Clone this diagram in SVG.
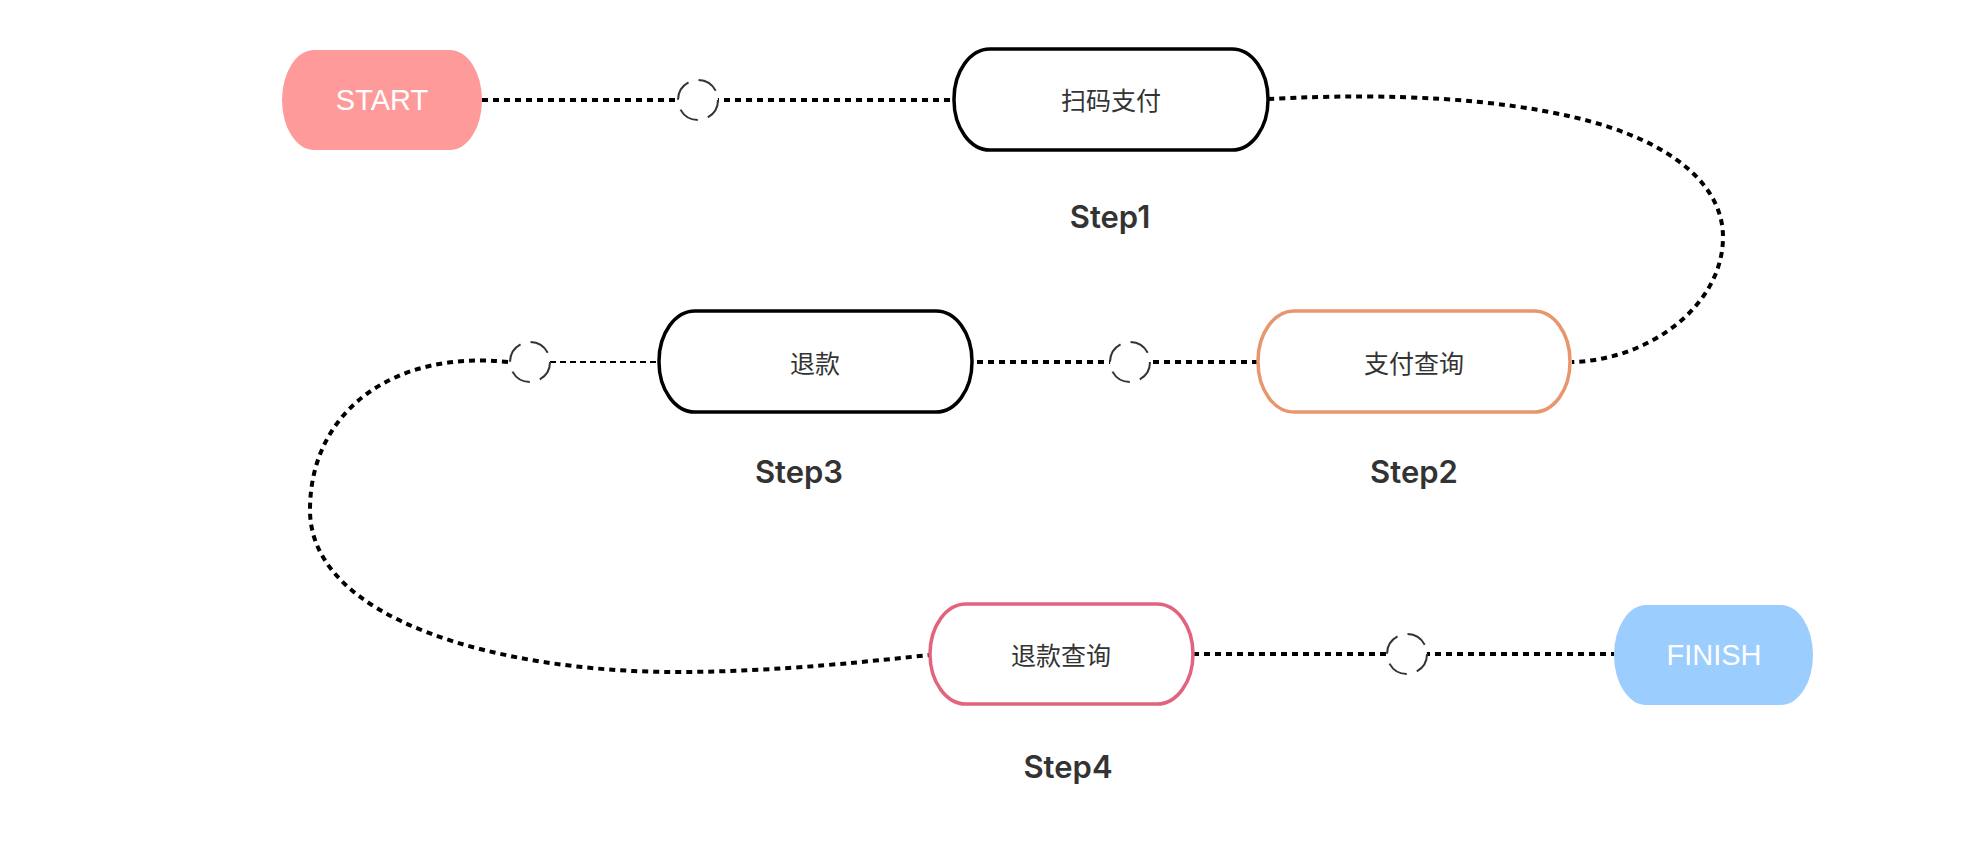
<svg xmlns="http://www.w3.org/2000/svg" width="1962" height="853" viewBox="0 0 1962 853">
<style>
.dot{fill:none;stroke:#000;stroke-width:4;stroke-dasharray:6 5}
.thin{fill:none;stroke:#000;stroke-width:2;stroke-dasharray:6 4}
.ring{fill:#fff;stroke:#333;stroke-width:2;stroke-dasharray:21 10.4}
.box{fill:#fff;stroke-width:3.5}
.lbl{font-family:"Liberation Sans","Noto Sans CJK SC",sans-serif;font-size:25px;fill:#333;text-anchor:middle;dominant-baseline:central}
.term{font-family:"Liberation Sans",sans-serif;font-size:29px;fill:#fff;text-anchor:middle;dominant-baseline:central}
.step{font-family:Inter,"Liberation Sans",sans-serif;font-size:31px;font-weight:600;fill:#333;text-anchor:middle}
</style>
<rect width="1962" height="853" fill="#fff"/>
<g id="connectors">
<path class="dot" d="M482,100 H953"/>
<path class="dot" d="M1268,99 C1400,92 1500,100 1573,117 C1680,142 1723,190 1723,237 C1723,305 1650,360 1572,362"/>
<path class="dot" d="M1258,362 H972"/>
<path class="thin" d="M550,362 H659"/>
<path class="dot" d="M508,362 C395,350 310,410 310,510 C310,620 500,672 676,672 C780,672 880,660 930,655"/>
<path class="dot" d="M1193,654 H1614"/>
</g>
<g id="ring1"><circle class="ring" cx="698" cy="100" r="20"/></g>
<g id="ring2"><circle class="ring" cx="1130" cy="362" r="20"/></g>
<g id="ring3"><circle class="ring" cx="530" cy="362" r="20"/></g>
<g id="ring4"><circle class="ring" cx="1407" cy="654" r="20"/></g>
<g id="start">
<rect x="282" y="50" width="200" height="100" rx="32" ry="50" fill="#FF9A9A"/>
<text class="term" x="382" y="100">START</text>
</g>
<g id="step1">
<rect class="box" x="954" y="49" width="314" height="101" rx="36" ry="50" stroke="#000"/>
<text class="lbl" x="1111" y="101">扫码支付</text>
<text class="step" x="1110" y="228">Step1</text>
</g>
<g id="step2">
<rect class="box" x="1258" y="311" width="312" height="101" rx="36" ry="50" stroke="#E8966E"/>
<text class="lbl" x="1414" y="364">支付查询</text>
<text class="step" x="1414" y="483">Step2</text>
</g>
<g id="step3">
<rect class="box" x="659" y="311" width="313" height="101" rx="36" ry="50" stroke="#000"/>
<text class="lbl" x="815" y="364">退款</text>
<text class="step" x="799" y="483">Step3</text>
</g>
<g id="step4">
<rect class="box" x="930" y="604" width="263" height="100" rx="36" ry="50" stroke="#E2637D"/>
<text class="lbl" x="1061" y="656">退款查询</text>
<text class="step" x="1068" y="778">Step4</text>
</g>
<g id="finish">
<rect x="1614" y="605" width="199" height="100" rx="32" ry="50" fill="#9CCDFF"/>
<text class="term" x="1714" y="655">FINISH</text>
</g>
</svg>
